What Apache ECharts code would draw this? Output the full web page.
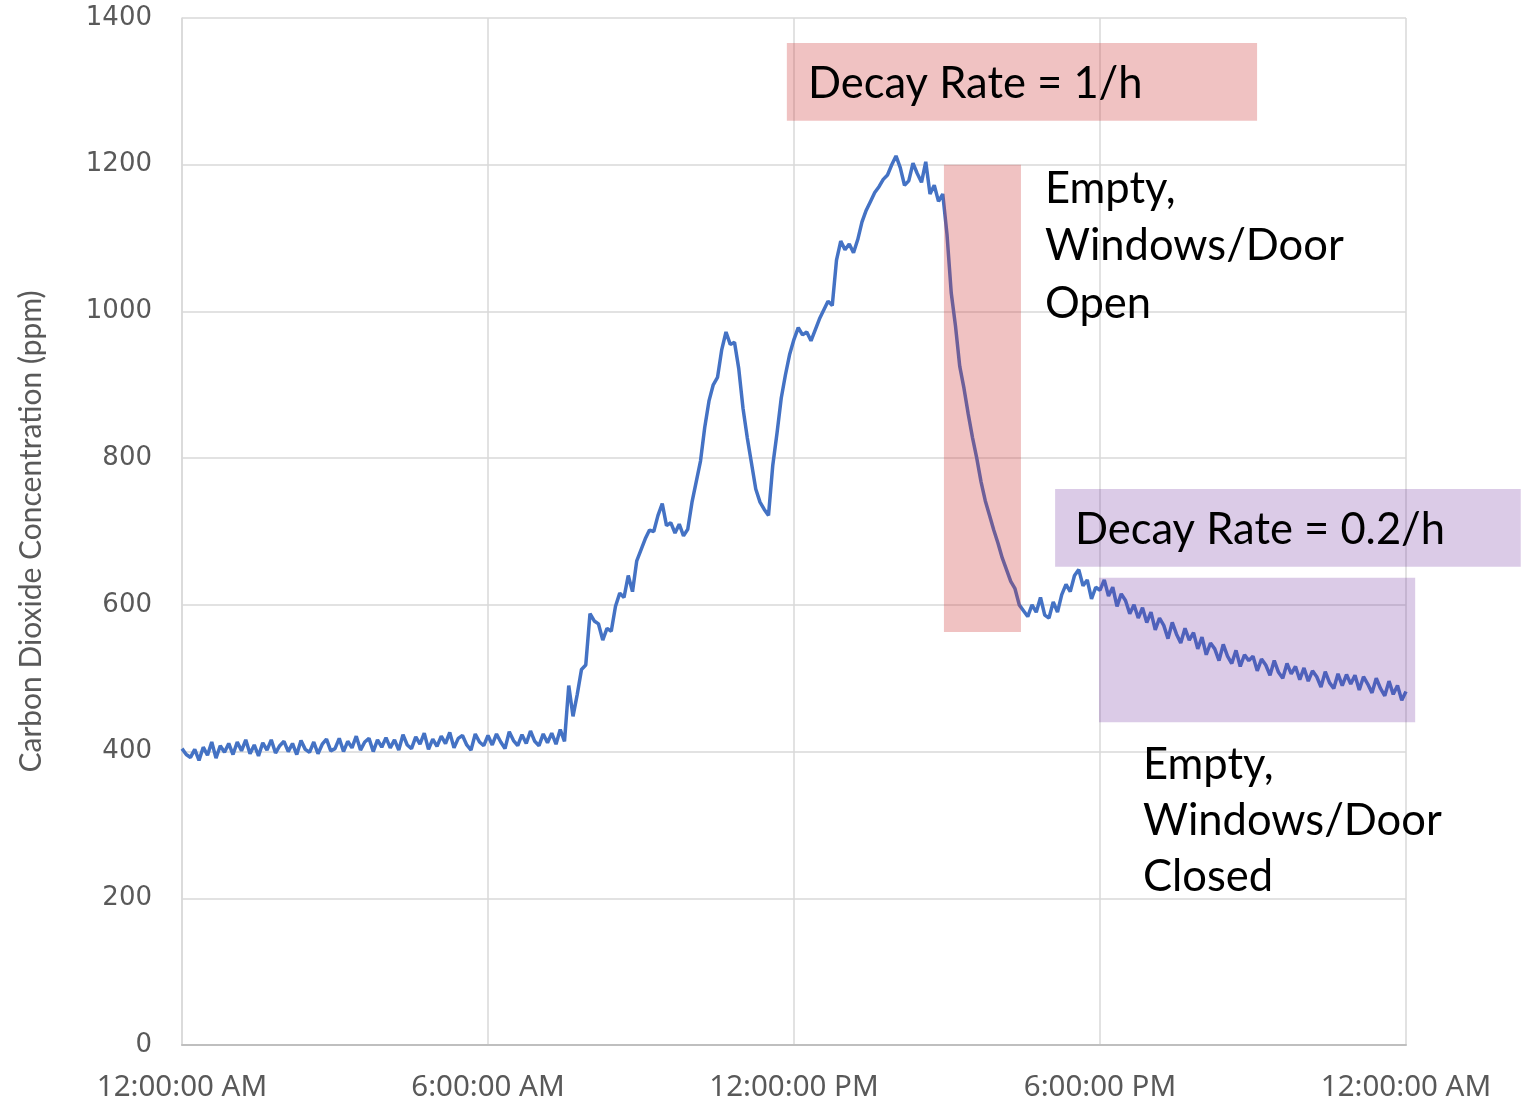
<!DOCTYPE html>
<html>
<head>
<meta charset="utf-8">
<title>CO2</title>
<script src="https://cdn.jsdelivr.net/npm/echarts@6/dist/echarts.min.js"></script>
<style>
  html, body { margin: 0; padding: 0; background: #fff; }
  #chart { width: 1521px; height: 1102px; }
</style>
</head>
<body>
<div id="chart"></div>
<script>
// sampling step of the logger, minutes
var stepMinutes = 5;

// tick labels of the time axis (hours -> label)
var timeTicks = [0, 6, 12, 18, 24];
var timeLabels = ['12:00:00 AM', '6:00:00 AM', '12:00:00 PM', '6:00:00 PM', '12:00:00 AM'];

// CO2 readings, ppm, one per 5 minutes from midnight to midnight
var co2 = [
	// 0h
	404, 396, 392, 403, 388, 406, 395, 413, 391, 408, 399, 411,
	// 1h
	396, 413, 401, 416, 397, 409, 394, 412, 402, 416, 398, 408,
	// 2h
	414, 400, 411, 396, 415, 403, 399, 413, 397, 410, 417, 401,
	// 3h
	404, 418, 400, 414, 405, 421, 402, 413, 418, 400, 416, 406,
	// 4h
	419, 405, 416, 402, 423, 409, 404, 420, 410, 425, 403, 417,
	// 5h
	407, 421, 411, 426, 405, 418, 422, 409, 402, 424, 413, 408,
	// 6h
	422, 409, 424, 413, 404, 427, 415, 408, 423, 411, 428, 414,
	// 7h
	408, 424, 412, 425, 410, 430, 414, 490, 448, 478, 512, 518,
	// 8h
	588, 578, 574, 552, 568, 564, 598, 616, 610, 640, 618, 660,
	// 9h
	675, 690, 702, 700, 722, 738, 708, 712, 698, 710, 694, 703,
	// 10h
	740, 768, 796, 842, 878, 900, 910, 948, 972, 955, 958, 922,
	// 11h
	868, 828, 793, 758, 740, 730, 722, 790, 834, 882, 914, 942,
	// 12h
	962, 978, 968, 972, 960, 975, 990, 1002, 1014, 1008, 1070, 1096,
	// 13h
	1084, 1092, 1080, 1098, 1122, 1138, 1150, 1162, 1170, 1180, 1186, 1200,
	// 14h
	1212, 1196, 1172, 1178, 1202, 1188, 1176, 1204, 1160, 1172, 1150, 1160,
	// 15h
	1105, 1025, 980, 925, 895, 860, 828, 800, 768, 742, 722, 702,
	// 16h
	684, 664, 648, 632, 622, 600, 592, 584, 600, 590, 610, 586,
	// 17h
	582, 604, 590, 614, 628, 618, 640, 648, 626, 634, 608, 624,
	// 18h
	620, 634, 612, 624, 598, 615, 606, 588, 600, 582, 596, 576,
	// 19h
	590, 566, 582, 572, 554, 576, 560, 548, 568, 552, 562, 540,
	// 20h
	556, 532, 548, 540, 524, 546, 530, 520, 538, 516, 532, 524,
	// 21h
	530, 510, 526, 518, 504, 524, 508, 500, 520, 506, 516, 498,
	// 22h
	514, 496, 510, 502, 488, 509, 494, 486, 506, 490, 505, 492,
	// 23h
	504, 484, 502, 492, 480, 500, 486, 476, 496, 478, 490, 470,
	482
];

// shaded boxes in axis units: [hour from, ppm top, hour to, ppm bottom]
var boxes = [
	[11.86, 1366, 21.08, 1260],
	[14.94, 1200, 16.45, 563],
	[17.12, 758, 26.25, 652],
	[17.98, 637, 24.18, 440]
];
var boxColors = ['rgba(205,52,52,0.3)', 'rgba(205,52,52,0.3)', 'rgba(112,48,160,0.25)', 'rgba(112,48,160,0.25)'];

var points = [];
for (var i = 0; i < co2.length; i++) {
	points.push([i * stepMinutes / 60, co2[i]]);
}

var myChart = echarts.init(document.getElementById('chart'));
var gray = '#595959';
var annoFont = '43.5px Lato';

var options = {
	animation: false,
	backgroundColor: '#fff',
	grid: { left: 182, right: 115, top: 18, bottom: 57, outerBoundsMode: 'none' },
	xAxis: {
		type: 'value',
		min: 0,
		max: 24,
		interval: 6,
		axisLine: { show: true, lineStyle: { color: '#BFBFBF', width: 2 } },
		axisTick: { show: false },
		splitLine: { show: true, lineStyle: { color: '#D9D9D9', width: 1.5 } },
		axisLabel: {
			margin: 28,
			color: gray,
			fontFamily: 'Noto Sans',
			fontSize: 29.5,
			showMaxLabel: true,
			formatter: function (v) {
				var k = timeTicks.indexOf(v);
				return k < 0 ? '' : timeLabels[k];
			}
		}
	},
	yAxis: {
		type: 'value',
		min: 0,
		max: 1400,
		interval: 200,
		name: 'Carbon Dioxide Concentration (ppm)',
		nameLocation: 'middle',
		nameGap: 136,
		nameTextStyle: { color: gray, fontFamily: 'Lato', fontSize: 30 },
		axisLine: { show: true, lineStyle: { color: '#D9D9D9', width: 1.5 } },
		axisTick: { show: false },
		splitLine: { lineStyle: { color: '#D9D9D9', width: 1.5 } },
		axisLabel: {
			margin: 30,
			color: gray,
			fontFamily: 'DejaVu Sans',
			fontSize: 26,
			formatter: function (v) { return String(v); }
		}
	},
	series: [
		{
			name: 'CO2',
			type: 'line',
			data: points,
			showSymbol: false,
			lineStyle: { color: '#4472C4', width: 3.5 },
			z: 2
		},
		{
			name: 'boxes',
			type: 'custom',
			clip: false,
			z: 5,
			silent: true,
			data: boxes,
			renderItem: function (params, api) {
				var p0 = api.coord([api.value(0), api.value(1)]);
				var p1 = api.coord([api.value(2), api.value(3)]);
				return {
					type: 'rect',
					shape: { x: p0[0], y: p0[1], width: p1[0] - p0[0], height: p1[1] - p0[1] },
					style: { fill: boxColors[params.dataIndex] }
				};
			}
		}
	],
	graphic: [
		{ type: 'text', left: 808, top: 62, z: 10,
		  style: { text: 'Decay Rate = 1/h', font: annoFont, fill: '#000' } },
		{ type: 'text', left: 1075, top: 508, z: 10,
		  style: { text: 'Decay Rate = 0.2/h', font: annoFont, fill: '#000' } },
		{ type: 'text', left: 1045, top: 160, z: 10,
		  style: { text: 'Empty,\nWindows/Door\nOpen', font: annoFont, lineHeight: 57.5, fill: '#000' } },
		{ type: 'text', left: 1143, top: 737, z: 10,
		  style: { text: 'Empty,\nWindows/Door\nClosed', font: annoFont, lineHeight: 56, fill: '#000' } }
	]
};
myChart.setOption(options);
</script>
</body>
</html>
